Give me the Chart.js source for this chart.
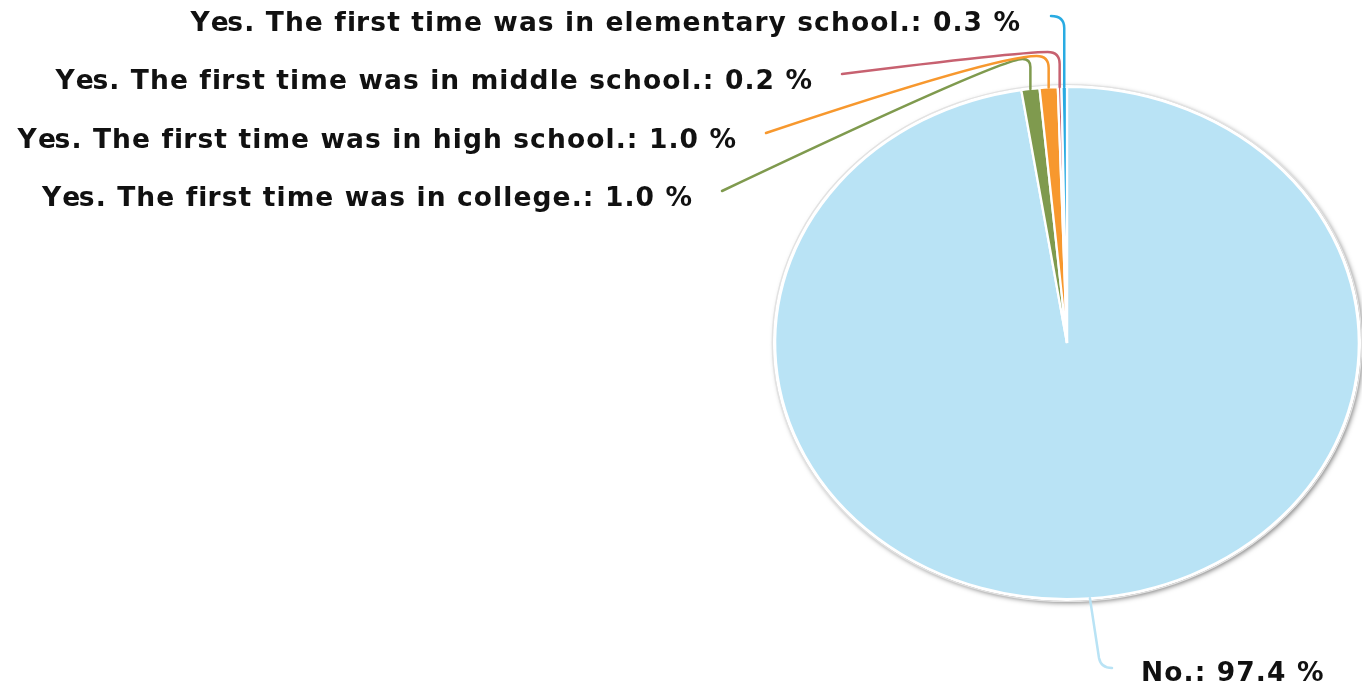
<!DOCTYPE html>
<html><head><meta charset="utf-8">
<script src="https://cdn.jsdelivr.net/npm/chart.js@4"></script>
<style>html,body{margin:0;padding:0;background:#fff;overflow:hidden}</style>
</head><body>
<canvas id="c" width="1362" height="687" style="display:block;width:1362px;height:687px"></canvas>
<script>
// ---- data ----
const categories = ["No.", "Yes. The first time was in college.", "Yes. The first time was in high school.", "Yes. The first time was in middle school.", "Yes. The first time was in elementary school."];
const values = [97.4, 1.0, 1.0, 0.2, 0.3];
const sliceColors = ["#B9E3F5", "#7F9A4E", "#F7982E", "#C9606B", "#29ABE2"];
const lineColors = ["#B9E3F5", "#7F9A4E", "#F7982E", "#C76170", "#29ABE2"];

// ---- layout (not data) ----
const SX = 1.14; // horizontal stretch of the pie
const leaders = [
  {type:'bottom', ex:1112, ey:668},
  {type:'top', topY:59, r:8,  k:22, ex:722, ey:191},
  {type:'top', topY:56, r:12, k:40, ex:766, ey:133},
  {type:'top', topY:52, r:12, k:30, ex:842, ey:74},
  {type:'topShort', topY:16, r:12, ex:1051, ey:16}
];
const FONT = 'bold 26.5px "DejaVu Sans"';
const LETTER = 1.1;

const stretchPlugin = {
  id:'stretch',
  beforeDatasetsDraw(chart){
    const arc = chart.getDatasetMeta(0).data[0];
    const {x, y, outerRadius} = arc;
    const ctx = chart.ctx;
    ctx.save();
    ctx.translate(x, y); ctx.scale(SX, 1); ctx.translate(-x, -y);
    ctx.save();
    ctx.shadowColor = 'rgba(0,0,0,0.5)';
    ctx.shadowBlur = 5; ctx.shadowOffsetX = 2; ctx.shadowOffsetY = 2;
    ctx.beginPath(); ctx.arc(x, y, outerRadius + 2, 0, Math.PI*2);
    ctx.fillStyle = '#ffffff'; ctx.fill();
    ctx.restore();
    ctx.beginPath(); ctx.arc(x, y, outerRadius + 2.5, 0, Math.PI*2);
    ctx.strokeStyle = '#e2e2e2'; ctx.lineWidth = 1.2; ctx.stroke();
  },
  afterDatasetsDraw(chart){ chart.ctx.restore(); }
};

function drawSpaced(ctx, text, x, y, align){
  const total = ctx.measureText(text).width + LETTER * (text.length - 1);
  const cx = align === 'right' ? x - total : x;
  ctx.textAlign = 'left';
  for (let i = 0; i < text.length; i++) {
    const before = ctx.measureText(text.slice(0, i)).width + LETTER * i;
    ctx.fillText(text[i], cx + before, y);
  }
}

const labelPlugin = {
  id:'labels',
  afterDraw(chart){
    const ctx = chart.ctx;
    const meta = chart.getDatasetMeta(0);
    ctx.save();
    ctx.lineWidth = 2.5;
    ctx.lineJoin = 'round'; ctx.lineCap = 'round';
    meta.data.forEach((arc, i) => {
      const mid = (arc.startAngle + arc.endAngle) / 2;
      const R = arc.outerRadius;
      const px = arc.x + SX * R * Math.cos(mid);
      const py = arc.y + R * Math.sin(mid);
      const L = leaders[i];
      ctx.strokeStyle = lineColors[i];
      ctx.beginPath();
      ctx.moveTo(px, py);
      let tx, ty, align;
      if (L.type === 'top') {
        ctx.lineTo(px, L.topY + L.r);
        ctx.quadraticCurveTo(px, L.topY, px - L.r, L.topY);
        ctx.quadraticCurveTo(px - L.r - L.k, L.topY, L.ex, L.ey);
        tx = L.ex - 30; ty = L.ey + 8; align = 'right';
      } else if (L.type === 'topShort') {
        ctx.lineTo(px, L.topY + L.r);
        ctx.quadraticCurveTo(px, L.topY, L.ex, L.ey);
        tx = L.ex - 31; ty = L.ey + 8; align = 'right';
      } else {
        ctx.lineTo(L.ex - 13, L.ey - 10);
        ctx.quadraticCurveTo(L.ex - 11, L.ey, L.ex, L.ey);
        tx = L.ex + 29; ty = L.ey + 6; align = 'left';
      }
      ctx.stroke();
      ctx.font = FONT;
      ctx.fillStyle = '#111111';
      ctx.textBaseline = 'middle';
      drawSpaced(ctx, categories[i] + ': ' + values[i].toFixed(1) + ' %', tx, ty, align);
    });
    ctx.restore();
  }
};

new Chart(document.getElementById('c'), {
  type: 'pie',
  data: {
    labels: categories,
    datasets: [{
      data: values,
      backgroundColor: sliceColors,
      borderColor: '#ffffff',
      borderWidth: 2
    }]
  },
  options: {
    responsive: false,
    animation: false,
    devicePixelRatio: 1,
    layout: { padding: { left: 810, right: 38, top: 86, bottom: 87 } },
    plugins: { legend: { display: false }, tooltip: { enabled: false } }
  },
  plugins: [stretchPlugin, labelPlugin]
});
</script>
</body></html>
